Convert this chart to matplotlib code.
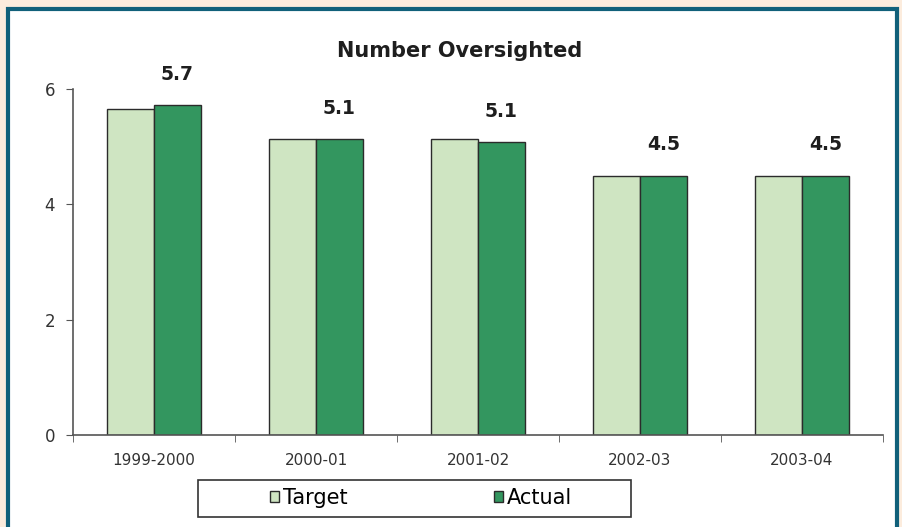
import numpy as np
import matplotlib.pyplot as plt
from matplotlib.patches import Rectangle

years = ['1999-2000', '2000-01', '2001-02', '2002-03', '2003-04']
target = [5.65, 5.13, 5.13, 4.5, 4.5]
actual = [5.72, 5.13, 5.08, 4.5, 4.5]
labels = ['5.7', '5.1', '5.1', '4.5', '4.5']

light = '#cfe5c2'
dark = '#33965f'

plt.rcParams['font.family'] = ['DejaVu Sans']

fig = plt.figure(figsize=(9.02, 5.27), dpi=100)
fig.patch.set_facecolor('#fcecdd')

# teal frame with white inside, behind everything
frame = Rectangle((0.009, -0.02), 0.986, 1.003, transform=fig.transFigure,
                  facecolor='white', edgecolor='#11607a', linewidth=3, zorder=-10)
fig.patches.append(frame)

ax = fig.add_axes([73 / 902, 1 - 435 / 527, 810 / 902, 346 / 527])
ax.set_zorder(1)
ax.set_facecolor('none')

x = np.arange(len(years))
w = 0.29
ax.bar(x - w / 2, target, w, color=light, edgecolor='#2b2b2b', linewidth=1, label='Target')
ax.bar(x + w / 2, actual, w, color=dark, edgecolor='#2b2b2b', linewidth=1, label='Actual')

for xi, v, t in zip(x, actual, labels):
    ax.text(xi + w / 2, v + 0.37, t, ha='center', va='bottom', fontsize=13.5,
            fontweight='bold', color='#1e1e1e')

ax.set_xlim(-0.5, len(years) - 0.5)
ax.set_ylim(0, 6)
ax.set_yticks([0, 2, 4, 6])
ax.set_xticks(x)
ax.set_xticklabels(years)
ax.set_xticks(np.arange(-0.5, len(years)), minor=True)
ax.tick_params(axis='x', which='major', length=0, pad=13, labelsize=11, colors='#333333')
ax.tick_params(axis='x', which='minor', length=5, direction='out', color='#555555')
ax.tick_params(axis='y', length=5, direction='out', color='#555555', labelsize=12,
               labelcolor='#333333', pad=8)

for s in ['top', 'right']:
    ax.spines[s].set_visible(False)
for s in ['left', 'bottom']:
    ax.spines[s].set_color('#555555')
    ax.spines[s].set_linewidth(1.2)

fig.text(460 / 902, 1 - 51 / 527, 'Number Oversighted', ha='center', va='center',
         fontsize=15, fontweight='bold', color='#1e1e1e')

# legend: box drawn separately so it can be wider than its entries
box = Rectangle((198 / 902, 1 - 517 / 527), 433 / 902, 37 / 527, transform=fig.transFigure,
                facecolor='white', edgecolor='#333333', linewidth=1.2, zorder=2)
fig.patches.append(box)
leg = fig.legend(loc='center', bbox_to_anchor=(421 / 902, 1 - 498 / 527), ncol=2,
                 frameon=False, fontsize=15, handlelength=0.45, handleheight=0.45,
                 handletextpad=0.2, columnspacing=7.0)
leg.set_zorder(3)

fig.savefig('out.png', dpi=100, facecolor=fig.get_facecolor())
